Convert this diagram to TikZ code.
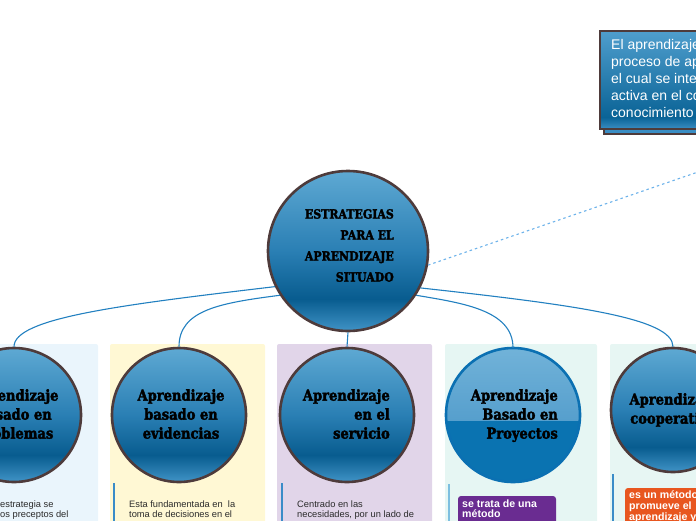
\documentclass[tikz,border=0pt]{standalone}
\usepackage{fontspec}
\newfontfamily\slabfont[FakeStretch=0.87,FakeBold=2.4]{DejaVu Serif}
\newfontfamily\boxfont{Liberation Sans}
\newfontfamily\notefont{Liberation Sans}
\definecolor{ringbrown}{HTML}{4E3B3B}
\definecolor{balltop}{HTML}{5EA9D3}
\definecolor{ballmid}{HTML}{2A7FB4}
\definecolor{balldark}{HTML}{085C8F}
\definecolor{ballbot}{HTML}{4093C6}
\definecolor{boxtop}{HTML}{4F9ECD}
\definecolor{boxdark}{HTML}{0A6396}
\definecolor{boxbot}{HTML}{3A8EC4}
\definecolor{linkblue}{HTML}{2280C0}
\definecolor{dashblue}{HTML}{6CB2EA}
\definecolor{panA}{HTML}{EAF5FC}
\definecolor{panB}{HTML}{FFF8D4}
\definecolor{panC}{HTML}{E1D5E9}
\definecolor{panD}{HTML}{E6F6F3}
\definecolor{panE}{HTML}{E7F6F3}
\definecolor{barblue}{HTML}{3A8CC8}
\definecolor{barlight}{HTML}{7DBFE0}
\definecolor{projring}{HTML}{0B70B2}
\definecolor{projlow}{HTML}{0A73B1}
\definecolor{projtop}{HTML}{72B3D9}
\definecolor{projmid}{HTML}{569FCD}
\definecolor{methpurple}{HTML}{6A2C91}
\definecolor{methorange}{HTML}{E8561F}
\definecolor{notegray}{HTML}{2B2B2B}
\pgfdeclareverticalshading{ballshade}{100bp}{color(0bp)=(ballbot); color(25bp)=(ballbot); color(35bp)=(balldark); color(50bp)=(ballmid); color(75bp)=(balltop); color(100bp)=(balltop)}
\pgfdeclareverticalshading{boxshade}{100bp}{color(0bp)=(boxbot); color(25bp)=(boxbot); color(31bp)=(boxdark); color(75bp)=(boxtop); color(100bp)=(boxtop)}
\begin{document}
\begin{tikzpicture}[x=1pt,y=1pt,
  ball/.style={circle, draw=ringbrown, line width=2.6pt, shade, shading=ballshade, inner sep=0pt, minimum size=#1},
  slabtext/.style={inner sep=0pt, text=black, font=\slabfont\bfseries\fontsize{15}{19}\selectfont},
  link/.style={draw=linkblue, line width=1.1pt},
  dashline/.style={draw=dashblue, line width=1.1pt, dash pattern=on 2.5pt off 3pt},
  panel/.style={rounded corners=2pt},
  notetext/.style={inner sep=0pt, align=left, text=notegray, font=\notefont\fontsize{9.3}{10}\selectfont},
  methtext/.style={anchor=north west, align=left, inner sep=0pt, text=white, font=\notefont\bfseries\fontsize{10.6}{9.6}\selectfont},
  barline/.style={line width=1.6pt}
]
\useasboundingbox (0,0) rectangle (696,-520);
\clip (0,0) rectangle (696,-520);

% panels
\fill[panel, panA] (-10,-344) rectangle (98,-530);
\fill[panel, panB] (110,-344) rectangle (265,-530);
\fill[panel, panC] (277,-344) rectangle (432,-530);
\fill[panel, panD] (445,-344) rectangle (597,-530);
\fill[panel, panE] (610,-344) rectangle (720,-530);

% top right box
\node[draw=ringbrown, line width=2pt, fill=boxbot, minimum width=200pt, minimum height=98pt, anchor=north west, inner sep=0pt] (tbshadow) at (603,-35) {};
\node[draw=ringbrown, line width=2pt, shade, shading=boxshade, minimum width=200pt, minimum height=98pt, anchor=north west, inner sep=0pt] (tb) at (599,-30) {};
\node[anchor=north west, inner sep=0pt, align=left, text=white, font=\boxfont\fontsize{14}{17}\selectfont] (tbtext) at (611,-39) {El aprendizaje\\proceso de ap\\el cual se inte\\activa en el co\\conocimiento};
\coordinate (dashend) at (811,-133);

% central circle
\node[ball=160pt] (c) at (348,-251) {};
\node[slabtext, align=right, anchor=north east, font=\slabfont\bfseries\fontsize{12.6}{21}\selectfont] (ctext) at (394,-209) {ESTRATEGIAS\\PARA EL\\APRENDIZAJE\\SITUADO};

% child circles
\node[ball=134pt] (b1) at (14,-415) {};
\node[ball=134pt] (b2) at (179,-415) {};
\node[ball=134pt] (b3) at (347,-415) {};
\node[circle, fill=projlow, inner sep=0pt, minimum size=134pt] (b4) at (513,-415) {};
\begin{scope}
  \clip (b4.center) circle (67pt);
  \shade[top color=projtop, bottom color=projmid] (440,-346) rectangle (590,-420);
\end{scope}
\draw[projring, line width=2.6pt] (b4.center) circle (67pt);
\node[ball=124pt] (b5) at (673,-410) {};

% connectors
\draw[link] (c.206) .. controls (120,-305) and (14,-318) .. (b1.north);
\draw[link] (c.213) .. controls (220,-303) and (179,-310) .. (b2.north);
\draw[link] (c.south) -- (b3.north);
\draw[link] (c.327) .. controls (462,-303) and (513,-310) .. (b4.north);
\draw[link] (c.333) .. controls (575,-305) and (673,-318) .. (b5.north);
\draw[dashline] (c.350) -- (dashend);

% circle labels
\node[slabtext, align=center, anchor=north] (t1) at (15,-389) {Aprendizaje\\basado en\\problemas};
\node[slabtext, align=center, anchor=north] (t2) at (181,-389) {Aprendizaje\\basado en\\evidencias};
\node[slabtext, align=right, anchor=north east] (t3) at (390,-389) {Aprendizaje\\en el\\servicio};
\node[slabtext, align=right, anchor=north east] (t4) at (558,-389) {Aprendizaje\\Basado en\\Proyectos};
\node[slabtext, align=center, anchor=north] (t5) at (673,-393) {Aprendizaje\\cooperativo};

% side bars
\draw[barline, barblue] (114,-483) -- (114,-525);
\draw[barline, barblue] (282,-483) -- (282,-525);
\draw[barline, barlight] (449,-484) -- (449,-525);
\draw[barline, barblue] (613,-474) -- (613,-525);

% notes
\node[notetext, anchor=north west] (n1) at (0,-501) {estrategia se\\os preceptos del};
\node[notetext, anchor=north west] (n2) at (129,-501) {Esta fundamentada en \ la\\toma de decisiones en el};
\node[notetext, anchor=north west] (n3) at (297,-501) {Centrado en las\\necesidades, por un lado de};
\fill[methpurple, rounded corners=3pt] (458,-496) rectangle (556,-540);
\node[methtext] (m4) at (462,-500) {se trata de una\\método};
\fill[methorange, rounded corners=3pt] (625,-488) rectangle (720,-540);
\node[methtext] (m5) at (629,-490.5) {es un método que\\promueve el\\aprendizaje y la};
\end{tikzpicture}
\end{document}
